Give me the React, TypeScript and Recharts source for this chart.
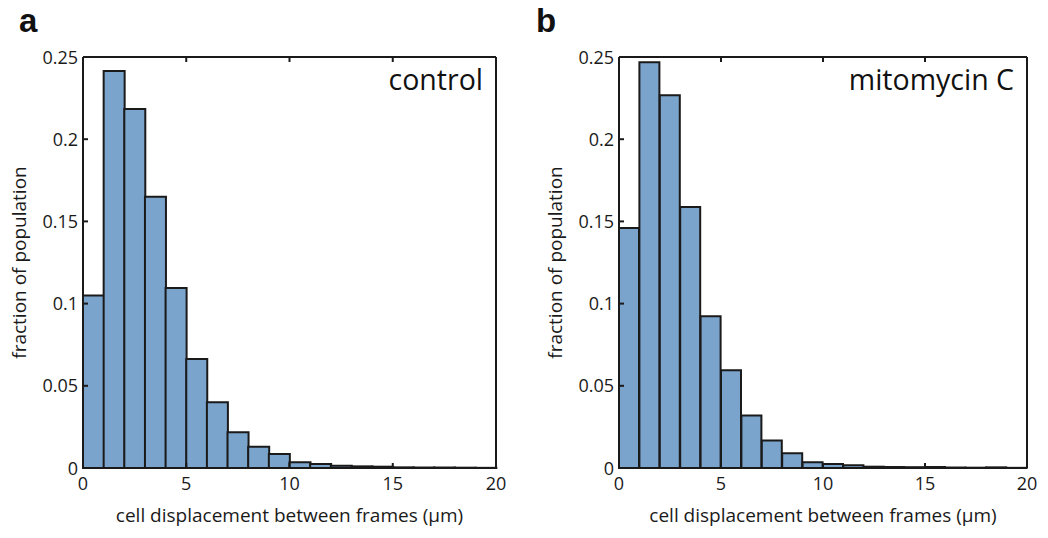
import { BarChart, Bar, XAxis, YAxis } from 'recharts';

const binCenters = [0.5, 1.5, 2.5, 3.5, 4.5, 5.5, 6.5, 7.5, 8.5, 9.5, 10.5, 11.5, 12.5, 13.5, 14.5, 15.5, 16.5, 17.5, 18.5, 19.5];
const controlFraction = [0.105, 0.2415, 0.2184, 0.165, 0.1095, 0.0663, 0.04, 0.0217, 0.013, 0.0085, 0.0035, 0.0024, 0.0014, 0.001, 0.0008, 0.0004, 0.0003, 0.0003, 0.0002, 0.0001];
const mitomycinFraction = [0.146, 0.2468, 0.2267, 0.1588, 0.0923, 0.0594, 0.032, 0.0168, 0.0089, 0.0035, 0.0024, 0.0016, 0.0008, 0.0006, 0.0005, 0.0006, 0.0003, 0.0002, 0.0004, 0.0001];
const xTicks = [0, 5, 10, 15, 20];
const yTicks = [0, 0.05, 0.1, 0.15, 0.2, 0.25];

const FONT = '"Open Sans", sans-serif';
const INK = '#1a1a1a';
const TICK_LEN = 5;
const labelStyle = { fontSize: 19, fontFamily: FONT, fill: INK, stroke: 'none' };

// matlab-style ticks: mark pointing into the plot, label outside
function BottomTick({ x, y, payload }: any) {
  return (
    <g>
      <line x1={x} x2={x} y1={y} y2={y - TICK_LEN} stroke={INK} strokeWidth={2} />
      <text x={x} y={y + 22} textAnchor="middle" fill={INK} fontSize={18} fontFamily={FONT}>{payload.value}</text>
    </g>
  );
}

function TopTick({ x, y }: any) {
  return <line x1={x} x2={x} y1={y} y2={y + TICK_LEN} stroke={INK} strokeWidth={2} />;
}

function LeftTick({ x, y, payload }: any) {
  return (
    <g>
      <line x1={x} x2={x + TICK_LEN} y1={y} y2={y} stroke={INK} strokeWidth={2} />
      <text x={x - 5} y={y + 6.5} textAnchor="end" fill={INK} fontSize={18} fontFamily={FONT}>{payload.value}</text>
    </g>
  );
}

function RightTick({ x, y }: any) {
  return <line x1={x} x2={x - TICK_LEN} y1={y} y2={y} stroke={INK} strokeWidth={2} />;
}

interface PanelProps {
  values: number[];
  letter: string;
  title: string;
  left: number;
  width: number;
  plotLeft: number;
  marginRight: number;
  labelOffset: number;
}

function HistPanel({ values, letter, title, left, width, plotLeft, marginRight, labelOffset }: PanelProps) {
  const data = binCenters.map((c, i) => ({ center: c, value: values[i] }));
  return (
    <div style={{ position: 'absolute', left, top: 0, width, height: 538 }}>
      <BarChart
        width={width}
        height={538}
        data={data}
        barCategoryGap={0}
        margin={{ top: 56, right: marginRight - 1, bottom: 40, left: 0 }}
      >
        <XAxis
          xAxisId="num"
          dataKey="center"
          type="number"
          domain={[0, 20]}
          ticks={xTicks}
          interval={0}
          height={30}
          tickSize={0}
          tickMargin={0}
          stroke={INK}
          strokeWidth={2}
          tickLine={false}
          tick={<BottomTick />}
          label={{ value: 'cell displacement between frames (\u03bcm)', position: 'insideBottom', offset: -24, style: labelStyle }}
        />
        <XAxis
          xAxisId="top"
          dataKey="center"
          type="number"
          orientation="top"
          domain={[0, 20]}
          ticks={xTicks}
          interval={0}
          height={1}
          tickSize={0}
          tickMargin={0}
          stroke={INK}
          strokeWidth={2}
          tickLine={false}
          tick={<TopTick />}
        />
        <YAxis
          yAxisId="left"
          domain={[0, 0.25]}
          ticks={yTicks}
          interval={0}
          width={plotLeft}
          tickSize={0}
          tickMargin={0}
          stroke={INK}
          strokeWidth={2}
          tickLine={false}
          tick={<LeftTick />}
          label={{ value: 'fraction of population', angle: -90, position: 'insideLeft', offset: labelOffset, style: { ...labelStyle, textAnchor: 'middle' } }}
        />
        <YAxis
          yAxisId="right"
          orientation="right"
          domain={[0, 0.25]}
          ticks={yTicks}
          interval={0}
          width={1}
          tickSize={0}
          tickMargin={0}
          stroke={INK}
          strokeWidth={2}
          tickLine={false}
          tick={<RightTick />}
        />
        <Bar
          xAxisId="num"
          yAxisId="left"
          dataKey="value"
          fill="#7BA4CC"
          stroke={INK}
          strokeWidth={2}
          isAnimationActive={false}
        />
      </BarChart>
      <span style={{ position: 'absolute', left: left ? 16 : 19, top: 3, fontFamily: 'Arial, sans-serif', fontWeight: 'bold', fontSize: 33, lineHeight: '36px', color: '#111' }}>{letter}</span>
      <span style={{ position: 'absolute', right: marginRight + 13, top: 59, fontFamily: FONT, fontSize: 28.5, lineHeight: '40px', color: '#111', whiteSpace: 'nowrap' }}>{title}</span>
    </div>
  );
}

export default function App() {
  return (
    <div style={{ position: 'absolute', left: 0, top: 0, width: 1048, height: 538, background: '#fff' }}>
      <HistPanel values={controlFraction} letter="a" title="control" left={0} width={520} plotLeft={83} marginRight={24} labelOffset={19} />
      <HistPanel values={mitomycinFraction} letter="b" title="mitomycin C" left={520} width={528} plotLeft={99} marginRight={21} labelOffset={35} />
    </div>
  );
}
